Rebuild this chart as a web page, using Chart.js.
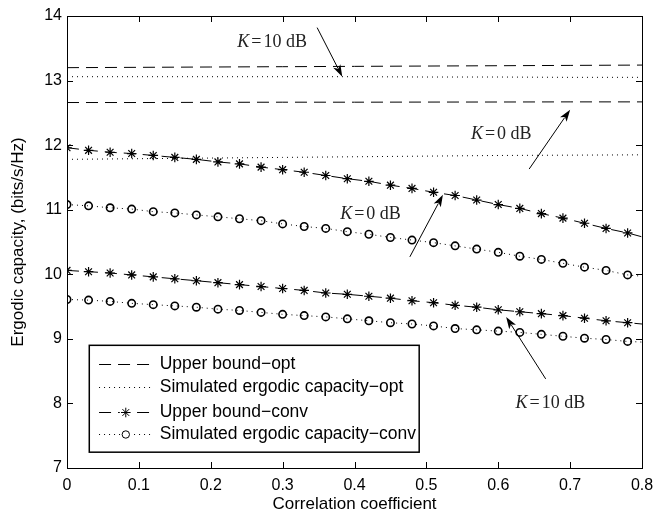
<!DOCTYPE html>
<html><head><meta charset="utf-8">
<script src="https://cdn.jsdelivr.net/npm/chart.js@4/dist/chart.umd.min.js"></script>
<style>html,body{margin:0;padding:0;background:#fff}#wrap{width:671px;height:516px}</style>
</head><body><div id="wrap"><canvas id="c" width="671" height="516"></canvas></div>
<script>
// ---- data ----
const xConv = [0,0.03,0.06,0.09,0.12,0.15,0.18,0.21,0.24,0.27,0.30,0.33,0.36,0.39,0.42,0.45,0.48,0.51,0.54,0.57,0.60,0.63,0.66,0.69,0.72,0.75,0.78,0.80];
const ubConvK0  = [11.96,11.92,11.89,11.87,11.84,11.81,11.78,11.74,11.71,11.66,11.62,11.58,11.53,11.48,11.44,11.38,11.33,11.27,11.22,11.15,11.08,11.02,10.94,10.87,10.79,10.71,10.64,10.58];
const simConvK0 = [11.08,11.06,11.03,11.01,10.97,10.95,10.92,10.89,10.86,10.83,10.78,10.74,10.71,10.66,10.62,10.57,10.53,10.49,10.44,10.39,10.34,10.28,10.23,10.17,10.11,10.06,9.99,9.97];
const ubConvK10 = [10.06,10.04,10.02,9.99,9.96,9.93,9.90,9.87,9.84,9.81,9.78,9.75,9.71,9.69,9.66,9.63,9.59,9.56,9.52,9.49,9.45,9.42,9.39,9.36,9.32,9.28,9.25,9.23];
const simConvK10= [9.61,9.60,9.58,9.55,9.53,9.51,9.49,9.46,9.44,9.41,9.38,9.36,9.34,9.31,9.28,9.25,9.23,9.20,9.16,9.14,9.12,9.10,9.07,9.04,9.01,8.99,8.96,8.95];
const xOpt = [0,0.1,0.2,0.3,0.4,0.5,0.6,0.7,0.8];
const ubOptK10  = [13.20,13.205,13.21,13.215,13.22,13.225,13.23,13.235,13.24];
const simOptK10 = [13.06,13.06,13.06,13.06,13.06,13.055,13.055,13.05,13.05];
const ubOptK0   = [12.66,12.66,12.663,12.665,12.665,12.667,12.668,12.67,12.67];
const simOptK0  = [11.78,11.79,11.80,11.81,11.82,11.83,11.84,11.845,11.85];
const xTicks = [0,0.1,0.2,0.3,0.4,0.5,0.6,0.7,0.8];
const yTicks = [7,8,9,10,11,12,13,14];
const legendLabels = ['Upper bound\u2212opt','Simulated ergodic capacity\u2212opt','Upper bound\u2212conv','Simulated ergodic capacity\u2212conv'];
const annotations = [
  {text:'10 dB', tx:0.237, ty:13.59, ax0:0.348, ay0:13.82, ax1:0.383, ay1:13.06},
  {text:'0 dB',  tx:0.562, ty:12.17, ax0:0.643, ay0:11.63, ax1:0.700, ay1:12.55},
  {text:'0 dB',  tx:0.380, ty:10.93, ax0:0.477, ay0:10.27, ax1:0.523, ay1:11.23},
  {text:'10 dB', tx:0.624, ty:8.00,  ax0:0.666, ay0:8.38,  ax1:0.611, ay1:9.34}
];

const pts = (xs, ys) => xs.map((x,i)=>({x:x, y:ys[i]}));
const DASH = [12,7], DOT = [1,4];
const markR = (r) => xConv.map((x,i)=> i < xConv.length-1 ? r : 0);

const lineDs = (label, xs, ys, dash, legendIdx) => ({
  label, data: pts(xs, ys), borderColor:'#000', borderWidth:1, borderDash:dash,
  pointRadius:0, fill:false, tension:0, legendIdx
});
const markDs = (label, ys, dash, style, r, legendIdx) => ({
  label, data: pts(xConv, ys), borderColor:'#000', borderWidth:1, borderDash:dash,
  pointStyle:style, pointRadius:markR(r), pointBorderColor:'#000', pointBackgroundColor:'rgba(0,0,0,0)',
  pointBorderWidth: style==='circle'?1.6:1.2, fill:false, tension:0, legendIdx
});

const datasets = [
  lineDs('Upper bound-opt K10', xOpt, ubOptK10, DASH, 0),
  lineDs('Upper bound-opt K0', xOpt, ubOptK0, DASH, -1),
  lineDs('Sim opt K10', xOpt, simOptK10, DOT, 1),
  lineDs('Sim opt K0', xOpt, simOptK0, DOT, -1),
  markDs('UB conv K0', ubConvK0, DASH, 'star', 4.8, 2),
  markDs('UB conv K10', ubConvK10, DASH, 'star', 4.8, -1),
  markDs('Sim conv K0', simConvK0, DOT, 'circle', 3.7, 3),
  markDs('Sim conv K10', simConvK10, DOT, 'circle', 3.7, -1)
];

const SANS = '"Liberation Sans", Arial, Helvetica, sans-serif';
const SERIF = '"Liberation Serif", "DejaVu Serif", serif';

function arrow(ctx, x0,y0,x1,y1){
  const ang = Math.atan2(y1-y0, x1-x0);
  const L = 12, W = 4;
  ctx.beginPath(); ctx.moveTo(x0,y0);
  ctx.lineTo(x1 - Math.cos(ang)*L*0.8, y1 - Math.sin(ang)*L*0.8); ctx.stroke();
  ctx.beginPath();
  ctx.moveTo(x1,y1);
  ctx.lineTo(x1 - Math.cos(ang)*L - Math.sin(ang)*W, y1 - Math.sin(ang)*L + Math.cos(ang)*W);
  ctx.lineTo(x1 - Math.cos(ang)*L*0.75, y1 - Math.sin(ang)*L*0.75);
  ctx.lineTo(x1 - Math.cos(ang)*L + Math.sin(ang)*W, y1 - Math.sin(ang)*L - Math.cos(ang)*W);
  ctx.closePath(); ctx.fill();
}

const decor = {
  id:'decor',
  afterDatasetsDraw(chart){
    const ctx = chart.ctx, xs = chart.scales.x, ys = chart.scales.y, ca = chart.chartArea;
    ctx.save();
    // frame
    ctx.strokeStyle = '#000'; ctx.lineWidth = 1; ctx.setLineDash([]);
    ctx.strokeRect(Math.round(ca.left)+0.5, Math.round(ca.top)+0.5, Math.round(ca.right-ca.left), Math.round(ca.bottom-ca.top));
    const TL = 6;
    ctx.beginPath();
    xTicks.forEach(v=>{ const px = Math.round(xs.getPixelForValue(v))+0.5;
      ctx.moveTo(px, ca.bottom); ctx.lineTo(px, ca.bottom-TL);
      ctx.moveTo(px, ca.top); ctx.lineTo(px, ca.top+TL); });
    yTicks.forEach(v=>{ const py = Math.round(ys.getPixelForValue(v))+0.5;
      ctx.moveTo(ca.left, py); ctx.lineTo(ca.left+TL, py);
      ctx.moveTo(ca.right, py); ctx.lineTo(ca.right-TL, py); });
    ctx.stroke();

    // annotations
    ctx.fillStyle = '#222'; ctx.strokeStyle = '#000'; ctx.lineWidth = 1;
    annotations.forEach(a=>{
      const tx = xs.getPixelForValue(a.tx), ty = ys.getPixelForValue(a.ty);
      ctx.textBaseline = 'middle'; ctx.textAlign = 'left';
      ctx.font = 'italic 18px ' + SERIF;
      ctx.fillText('K', tx, ty);
      let w = ctx.measureText('K').width;
      ctx.font = '18px ' + SERIF;
      ctx.fillText('=', tx + w + 2, ty);
      w += 2 + ctx.measureText('=').width + 2;
      ctx.fillText(a.text, tx + w, ty);
      ctx.fillStyle = '#000';
      arrow(ctx, xs.getPixelForValue(a.ax0), ys.getPixelForValue(a.ay0), xs.getPixelForValue(a.ax1), ys.getPixelForValue(a.ay1));
      ctx.fillStyle = '#222';
    });

    // legend
    const bx0 = xs.getPixelForValue(0.031), bx1 = xs.getPixelForValue(0.49);
    const by0 = ys.getPixelForValue(8.90), by1 = ys.getPixelForValue(7.245);
    ctx.fillStyle = '#fff'; ctx.fillRect(bx0, by0, bx1-bx0, by1-by0);
    ctx.strokeStyle = '#000'; ctx.lineWidth = 1.5; ctx.setLineDash([]);
    ctx.strokeRect(bx0, by0, bx1-bx0, by1-by0);
    const rows = [8.615, 8.26, 7.87, 7.53];
    const sx0 = xs.getPixelForValue(0.0446), sx1 = xs.getPixelForValue(0.119), smid = (sx0+sx1)/2;
    const textX = xs.getPixelForValue(0.129);
    legendLabels.forEach((lab, k)=>{
      const ds = chart.data.datasets.find(d=>d.legendIdx===k);
      const ry = Math.round(ys.getPixelForValue(rows[k]))+0.5;
      ctx.strokeStyle = '#000'; ctx.lineWidth = 1; ctx.setLineDash(ds.borderDash);
      ctx.beginPath(); ctx.moveTo(sx0, ry); ctx.lineTo(sx1, ry); ctx.stroke();
      ctx.setLineDash([]);
      if (ds.pointStyle === 'star' || ds.pointStyle === 'circle'){
        if (ds.pointStyle==='circle'){ ctx.fillStyle='#fff'; ctx.beginPath(); ctx.arc(smid, ry, 5, 0, Math.PI*2); ctx.fill(); }
        else { ctx.fillStyle='#fff'; ctx.fillRect(smid-6, ry-5, 12, 10); }
        Chart.helpers.drawPoint(ctx, {pointStyle: ds.pointStyle, radius: ds.pointStyle==='circle'?3.7:4.8, borderWidth: ds.pointBorderWidth, rotation:0}, smid, ry);
      }
      ctx.fillStyle = '#000'; ctx.font = '17.5px ' + SANS; ctx.textBaseline='middle'; ctx.textAlign='left';
      ctx.fillText(lab, textX, ry);
    });
    ctx.restore();
  }
};

Chart.defaults.font.family = SANS;
Chart.defaults.color = '#000';

new Chart(document.getElementById('c'), {
  type:'line',
  data:{ datasets },
  options:{
    responsive:false, animation:false, devicePixelRatio:1,
    layout:{ padding:{ top:16, right:29, left:0, bottom:0 } },
    plugins:{ legend:{display:false}, tooltip:{enabled:false} },
    elements:{ point:{ hitRadius:0 } },
    scales:{
      x:{ type:'linear', min:0, max:0.8,
        afterBuildTicks(s){ s.ticks = xTicks.map(v=>({value:v})); },
        afterFit(s){ s.height = 48; },
        grid:{ display:false, drawTicks:false }, border:{display:false},
        ticks:{ font:{size:16}, padding:8, maxRotation:0, callback:(v)=> String(+v.toFixed(1)) },
        title:{ display:true, text:'Correlation coefficient', font:{size:17}, padding:{top:0,bottom:1} }
      },
      y:{ type:'linear', min:7, max:14,
        afterBuildTicks(s){ s.ticks = yTicks.map(v=>({value:v})); },
        afterFit(s){ s.width = 67; },
        grid:{ display:false, drawTicks:false }, border:{display:false},
        ticks:{ font:{size:16}, padding:5, callback:(v)=> String(v) },
        title:{ display:true, text:'Ergodic capacity, (bits/s/Hz)', font:{size:17}, padding:{top:8,bottom:0} }
      }
    }
  },
  plugins:[decor]
});
</script>
</body></html>
